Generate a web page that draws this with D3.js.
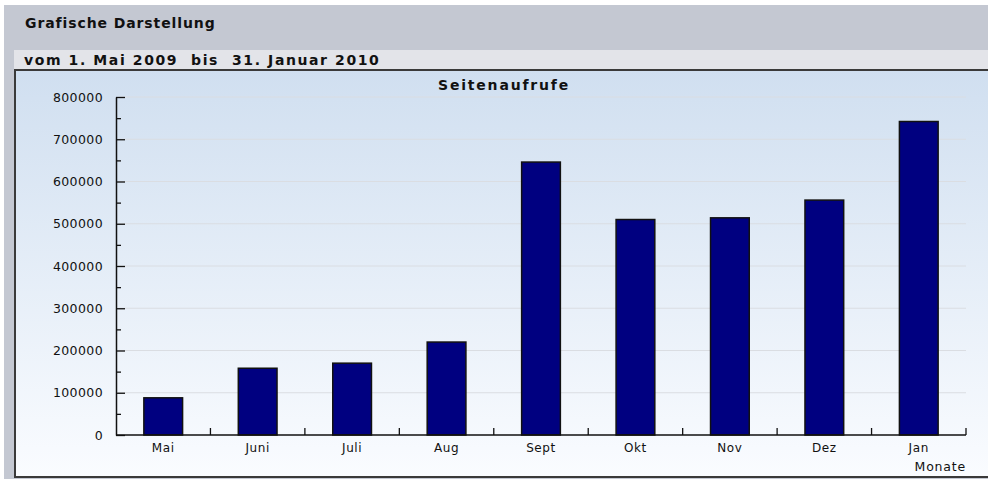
<!DOCTYPE html>
<html>
<head>
<meta charset="utf-8">
<script src="https://cdn.jsdelivr.net/npm/d3@7"></script>
<style>
  body { margin: 0; background: #fff; }
  svg text { font-family: "DejaVu Sans", sans-serif; }
  .head { font-weight: bold; fill: #111; }
</style>
</head>
<body>
<div id="chart"></div>
<script>
var months = ["Mai", "Juni", "Juli", "Aug", "Sept", "Okt", "Nov", "Dez", "Jan"];
var aufrufe = [88000, 158000, 170000, 220000, 646000, 510000, 514000, 556000, 742000];
var yTicks = [0, 100000, 200000, 300000, 400000, 500000, 600000, 700000, 800000];

var W = 988, H = 479;
var svg = d3.select("#chart").append("svg")
  .attr("width", W).attr("height", H);

var defs = svg.append("defs");
var grad = defs.append("linearGradient").attr("id", "bg")
  .attr("x1", 0).attr("y1", 0).attr("x2", 0).attr("y2", 1);
grad.append("stop").attr("offset", "0%").attr("stop-color", "#d0dff0");
grad.append("stop").attr("offset", "100%").attr("stop-color", "#fafcff");

// header frame
svg.append("rect").attr("x", 4).attr("y", 5).attr("width", W - 4).attr("height", H - 5).attr("fill", "#c4c8d2");
svg.append("rect").attr("x", 14).attr("y", 50).attr("width", W - 14).attr("height", 20).attr("fill", "#e3e4e9");
svg.append("text").attr("class", "head").attr("x", 25).attr("y", 28)
  .style("font-size", "14px").style("letter-spacing", "0.9px").text("Grafische Darstellung");
svg.append("text").attr("class", "head").attr("x", 24).attr("y", 65)
  .style("font-size", "14px").style("letter-spacing", "1.6px")
  .text("vom 1. Mai 2009\u00a0 bis\u00a0 31. Januar 2010");

// chart panel
svg.append("rect").attr("x", 15).attr("y", 70).attr("width", W - 14).attr("height", 407)
  .attr("fill", "url(#bg)").attr("stroke", "#3a3a3a").attr("stroke-width", 2);

var pLeft = 116, pRight = 966, pTop = 97, pBottom = 435;
var x = d3.scaleBand().domain(months).range([pLeft, pRight]).paddingInner(0.59).paddingOuter(0.295);
var xb = d3.scaleBand().domain(months).range([pLeft, pRight]);
var y = d3.scaleLinear().domain([0, 800000]).range([pBottom, pTop]);

// gridlines
svg.append("g").selectAll("line").data(yTicks.slice(1)).join("line")
  .attr("x1", pLeft + 2).attr("x2", pRight)
  .attr("y1", function(d) { return y(d); }).attr("y2", function(d) { return y(d); })
  .attr("stroke", "#dadde2").attr("stroke-width", 1);

svg.append("text").attr("x", 504).attr("y", 90).attr("text-anchor", "middle")
  .style("font-size", "14px").style("font-weight", "bold").style("letter-spacing", "1.8px")
  .attr("fill", "#111").text("Seitenaufrufe");

// bars
svg.append("g").selectAll("rect").data(aufrufe).join("rect")
  .attr("x", function(d, i) { return x(months[i]); })
  .attr("y", function(d) { return y(d); })
  .attr("width", x.bandwidth())
  .attr("height", function(d) { return pBottom - y(d); })
  .attr("fill", "#000080").attr("stroke", "#111").attr("stroke-width", 1.5);

// y axis
var yAxis = d3.axisLeft(y).tickValues(d3.range(0, 800001, 50000)).tickSizeInner(-8).tickSizeOuter(0)
  .tickFormat(function(d) { return d % 100000 === 0 ? d : ""; }).tickPadding(13);
var gy = svg.append("g").attr("transform", "translate(" + pLeft + ",0)").call(yAxis);
gy.selectAll(".tick line").attr("x2", function(d) { return d % 100000 === 0 ? 9 : 5; }).attr("stroke", "#111").attr("stroke-width", 1.3);
gy.select(".domain").attr("stroke", "#111").attr("stroke-width", 1.5);
gy.selectAll("text").attr("x", -13).style("font-size", "12.5px").style("letter-spacing", "0.4px").attr("fill", "#111");

// x axis
var gx = svg.append("g").attr("transform", "translate(0," + pBottom + ")");
gx.append("line").attr("x1", pLeft).attr("x2", pRight).attr("stroke", "#111").attr("stroke-width", 1.5);
gx.selectAll(".xt").data(months).join("line").attr("class", "xt")
  .attr("x1", function(d) { return xb(d) + xb.bandwidth(); })
  .attr("x2", function(d) { return xb(d) + xb.bandwidth(); })
  .attr("y1", 0).attr("y2", -7).attr("stroke", "#111").attr("stroke-width", 1.3);
gx.selectAll(".xl").data(months).join("text").attr("class", "xl")
  .attr("x", function(d) { return xb(d) + xb.bandwidth() / 2; })
  .attr("y", 17).attr("text-anchor", "middle")
  .style("font-size", "12px").style("letter-spacing", "0.6px").attr("fill", "#111").text(function(d) { return d; });
gx.append("text").attr("x", pRight).attr("y", 36).attr("text-anchor", "end")
  .style("font-size", "12.5px").style("letter-spacing", "0.8px").attr("fill", "#111").text("Monate");
</script>
</body>
</html>
